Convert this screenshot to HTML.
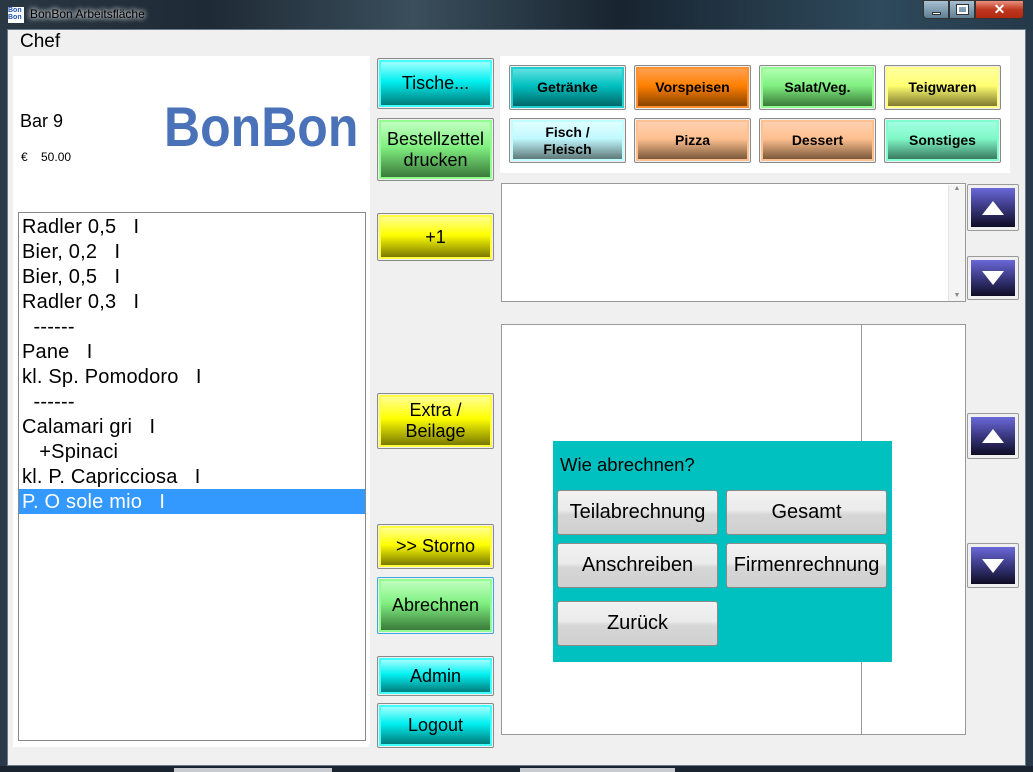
<!DOCTYPE html>
<html><head><meta charset="utf-8"><style>
*{box-sizing:border-box;margin:0;padding:0}
body{width:1033px;height:772px;position:relative;overflow:hidden;background:#2a3a4a;font-family:"Liberation Sans",sans-serif}
.a{position:absolute}
.btn{position:absolute;border:1px solid #8a8a8a;border-radius:2px;background:#f0f0f0;padding:1px}
.btn>div{width:100%;height:100%;border:2px solid var(--l);display:flex;align-items:center;justify-content:center;text-align:center;color:#000;line-height:1.15;background:linear-gradient(var(--t) 0%,var(--c) 45%,var(--d) 100%)}
.cat>div{font-weight:bold;font-size:14px}
.side>div{font-size:18px}
.li{position:absolute;left:22px;font-size:20px;letter-spacing:0.2px;white-space:pre}
.dlg{position:absolute;border:1px solid #8a8a8a;border-radius:3px;background:linear-gradient(#f2f2f2 0%,#ebebeb 45%,#d6d6d6 55%,#d0d0d0 100%);display:flex;align-items:center;justify-content:center;font-size:20px}
.arr{position:absolute;border:1px solid #9a9a9a;border-radius:2px;background:#f0f0f0;padding:3px}
.arr>div{width:100%;height:100%;background:linear-gradient(#6a68d8 0%,#3a3880 50%,#0e0c24 100%);display:flex;align-items:center;justify-content:center}
</style></head><body>
<div class="a" style="left:0;top:0;width:1033px;height:30px;background:linear-gradient(90deg,#2a3844,#1e2a34 20%,#3a4e5c 40%,#182430 60%,#2e4a5c 85%,#24394a)"></div>
<div class="a" style="left:8px;top:7px;width:16px;height:16px;background:#fff;font-size:7px;line-height:7px;color:#2050b0;font-weight:bold">Bon<br>Bon</div>
<div class="a" style="left:30px;top:7px;font-size:12px;color:#000;text-shadow:0 0 6px #fff,0 0 6px #fff">BonBon Arbeitsfläche</div>
<div class="a" style="left:923px;top:0;width:26px;height:19px;background:linear-gradient(#a8c0d0,#5e7e94);border:1px solid #333;border-radius:0 0 0 4px"><div class="a" style="left:8px;top:11px;width:9px;height:3px;background:#fff;border:1px solid #333"></div></div>
<div class="a" style="left:949px;top:0;width:26px;height:19px;background:linear-gradient(#a8c0d0,#5e7e94);border:1px solid #333"><div class="a" style="left:7px;top:4px;width:11px;height:9px;border:2px solid #fff;outline:1px solid #333"></div></div>
<div class="a" style="left:975px;top:0;width:49px;height:19px;background:linear-gradient(#e89080,#c03820 50%,#b02810);border:1px solid #333;border-radius:0 0 4px 0;color:#fff;font-weight:bold;font-size:14px;text-align:center;line-height:17px">✕</div>
<div class="a" style="left:7px;top:29px;width:1019px;height:737px;background:#f0f0f0;border:1px solid #6a7a88"></div>
<div class="a" style="left:0;top:766px;width:1033px;height:6px;background:#1a2430"></div>
<div class="a" style="left:174px;top:768px;width:158px;height:4px;background:#c8ccd0"></div>
<div class="a" style="left:520px;top:768px;width:155px;height:4px;background:#c8ccd0"></div>
<div class="a" style="left:20px;top:31px;font-size:19px">Chef</div>
<div class="a" style="left:13px;top:56px;width:357px;height:691px;background:#fff"></div>
<div class="a" style="left:20px;top:111px;font-size:18px">Bar 9</div>
<div class="a" style="left:21px;top:150px;font-size:12px;white-space:pre">€    50.00</div>
<div class="a" style="left:164px;top:99px;font-size:50px;font-weight:bold;color:#4a72b8;transform:scaleY(1.12);transform-origin:0 0;line-height:50px">BonBon</div>
<div class="a" style="left:18px;top:212px;width:348px;height:529px;border:1px solid #888;background:#fff"></div>
<div class="a" style="left:19px;top:489px;width:346px;height:25px;background:#3399ff"></div>
<div class="li" style="top:216px">Radler 0,5   I</div>
<div class="li" style="top:241px">Bier, 0,2   I</div>
<div class="li" style="top:266px">Bier, 0,5   I</div>
<div class="li" style="top:291px">Radler 0,3   I</div>
<div class="li" style="top:316px">  ------</div>
<div class="li" style="top:341px">Pane   I</div>
<div class="li" style="top:366px">kl. Sp. Pomodoro   I</div>
<div class="li" style="top:391px">  ------</div>
<div class="li" style="top:416px">Calamari gri   I</div>
<div class="li" style="top:441px">   +Spinaci</div>
<div class="li" style="top:466px">kl. P. Capricciosa   I</div>
<div class="li" style="top:491px;color:#fff">P. O sole mio   I</div>

<div class="btn side" style="left:377px;top:58px;width:117px;height:51px;--l:#40ffff;--t:#a0ffff;--c:#00f0f0;--d:#007c7c"><div>Tische...</div></div>
<div class="btn side" style="left:377px;top:118px;width:117px;height:63px;--l:#90ff90;--t:#c0ffc0;--c:#80f080;--d:#3a7a3a"><div>Bestellzettel<br>drucken</div></div>
<div class="btn side" style="left:377px;top:213px;width:117px;height:48px;--l:#ffff40;--t:#ffff90;--c:#ffff00;--d:#7a7a00"><div>+1</div></div>
<div class="btn side" style="left:377px;top:393px;width:117px;height:56px;--l:#ffff40;--t:#ffff90;--c:#ffff00;--d:#7a7a00"><div>Extra /<br>Beilage</div></div>
<div class="btn side" style="left:377px;top:524px;width:117px;height:45px;--l:#ffff40;--t:#ffff90;--c:#ffff00;--d:#7a7a00"><div>&gt;&gt; Storno</div></div>
<div class="btn side" style="left:377px;top:577px;width:117px;height:57px;border-color:#3aa8e0;--l:#90ff90;--t:#c0ffc0;--c:#80f080;--d:#3a7a3a"><div>Abrechnen</div></div>
<div class="btn side" style="left:377px;top:656px;width:117px;height:40px;--l:#40ffff;--t:#a0ffff;--c:#00f0f0;--d:#007c7c"><div>Admin</div></div>
<div class="btn side" style="left:377px;top:703px;width:117px;height:45px;--l:#40ffff;--t:#a0ffff;--c:#00f0f0;--d:#007c7c"><div>Logout</div></div>

<div class="a" style="left:500px;top:56px;width:510px;height:117px;background:#fff"></div>
<div class="btn cat" style="left:509px;top:65px;width:117px;height:45px;--l:#20d0d0;--t:#60e0e0;--c:#00c0c0;--d:#006868"><div>Getränke</div></div>
<div class="btn cat" style="left:634px;top:65px;width:117px;height:45px;--l:#ff9030;--t:#ffa050;--c:#ff8000;--d:#8a4400"><div>Vorspeisen</div></div>
<div class="btn cat" style="left:759px;top:65px;width:117px;height:45px;--l:#90ff90;--t:#b0ffb0;--c:#80f080;--d:#3a7a3a"><div>Salat/Veg.</div></div>
<div class="btn cat" style="left:884px;top:65px;width:117px;height:45px;--l:#ffff80;--t:#ffffa0;--c:#ffff70;--d:#807a30"><div>Teigwaren</div></div>
<div class="btn cat" style="left:509px;top:118px;width:117px;height:45px;--l:#c0ffff;--t:#e0ffff;--c:#c0f8ff;--d:#607878"><div>Fisch /<br>Fleisch</div></div>
<div class="btn cat" style="left:634px;top:118px;width:117px;height:45px;--l:#ffc090;--t:#ffd0b0;--c:#ffc090;--d:#7a5a3a"><div>Pizza</div></div>
<div class="btn cat" style="left:759px;top:118px;width:117px;height:45px;--l:#ffc090;--t:#ffd0b0;--c:#ffc090;--d:#7a5a3a"><div>Dessert</div></div>
<div class="btn cat" style="left:884px;top:118px;width:117px;height:45px;--l:#80ffd0;--t:#a0ffe0;--c:#80f8c8;--d:#3a7a60"><div>Sonstiges</div></div>

<div class="a" style="left:501px;top:183px;width:465px;height:119px;border:1px solid #999;background:#fff"></div>
<div class="a" style="left:948px;top:185px;width:17px;height:116px;background:#f4f4f4;border-left:1px solid #e4e4e4;font-size:7px;color:#888;text-align:center">▲<div style="position:absolute;bottom:2px;width:100%">▼</div></div>

<div class="arr" style="left:967px;top:184px;width:52px;height:47px"><div><svg width="22" height="14"><polygon points="11,0 22,14 0,14" fill="#fff"/></svg></div></div>
<div class="arr" style="left:967px;top:256px;width:52px;height:44px"><div><svg width="22" height="14"><polygon points="0,0 22,0 11,14" fill="#fff"/></svg></div></div>
<div class="arr" style="left:967px;top:413px;width:52px;height:46px"><div><svg width="22" height="14"><polygon points="11,0 22,14 0,14" fill="#fff"/></svg></div></div>
<div class="arr" style="left:967px;top:543px;width:52px;height:45px"><div><svg width="22" height="14"><polygon points="0,0 22,0 11,14" fill="#fff"/></svg></div></div>

<div class="a" style="left:501px;top:324px;width:465px;height:411px;border:1px solid #999;background:#fff"></div>
<div class="a" style="left:861px;top:325px;width:1px;height:409px;background:#999"></div>

<div class="a" style="left:553px;top:441px;width:339px;height:221px;background:#00c0c0"></div>
<div class="a" style="left:560px;top:454px;font-size:18.5px">Wie abrechnen?</div>
<div class="dlg" style="left:557px;top:490px;width:161px;height:45px">Teilabrechnung</div>
<div class="dlg" style="left:726px;top:490px;width:161px;height:45px">Gesamt</div>
<div class="dlg" style="left:557px;top:543px;width:161px;height:45px">Anschreiben</div>
<div class="dlg" style="left:726px;top:543px;width:161px;height:45px">Firmenrechnung</div>
<div class="dlg" style="left:557px;top:601px;width:161px;height:45px">Zurück</div>
</body></html>
